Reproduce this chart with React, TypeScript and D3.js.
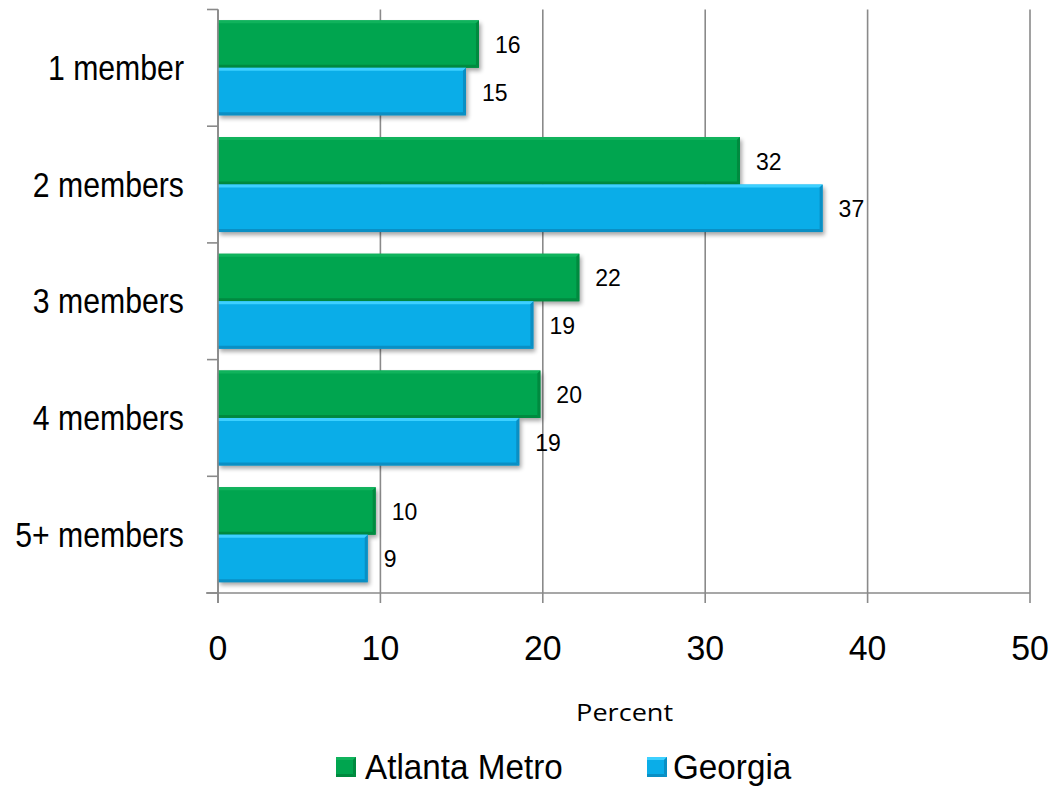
import React from "react";
import * as d3 from "d3";

const categories = ["1 member", "2 members", "3 members", "4 members", "5+ members"];
const seriesNames = ["Atlanta Metro", "Georgia"];
const atlantaValues = [16.07, 32.14, 22.25, 19.85, 9.71];
const georgiaValues = [15.27, 37.23, 19.42, 18.55, 9.22];
const atlantaLabels = ["16", "32", "22", "20", "10"];
const georgiaLabels = ["15", "37", "19", "19", "9"];
const xTicks = [0, 10, 20, 30, 40, 50];

const W = 1055;
const H = 788;
const plotLeft = 218;
const plotRight = 1030;
const plotTop = 9.5;
const plotBottom = 593;

const FONT = "'Liberation Sans', Arial, sans-serif";

const colors = {
  green: { fill: "#00A54F", dark: "#008A3F", light: "#10B35C" },
  blue: { fill: "#0AADE8", dark: "#0A8FC4", light: "#3DD0FF" },
};

export default function App() {
  const x = d3.scaleLinear().domain([0, 50]).range([plotLeft, plotRight]);
  const y = d3.scaleBand<string>().domain(categories).range([plotTop, plotBottom]).padding(0);
  const inner = d3
    .scaleBand<string>()
    .domain(seriesNames)
    .range([0, y.bandwidth()])
    .paddingInner(0)
    .paddingOuter(0.228);

  const series = [
    { name: seriesNames[0], values: atlantaValues, labels: atlantaLabels, c: colors.green },
    { name: seriesNames[1], values: georgiaValues, labels: georgiaLabels, c: colors.blue },
  ];

  const boundaries = categories.map((c) => y(c) as number).concat([plotBottom]);
  const bh = inner.bandwidth();

  return (
    <svg
      width={W}
      height={H}
      style={{ position: "absolute", left: 0, top: 0, background: "#fff" }}
      xmlns="http://www.w3.org/2000/svg"
    >
      <defs>
        <filter id="shadow" x="-5%" y="-20%" width="115%" height="160%">
          <feGaussianBlur stdDeviation="2" />
        </filter>
      </defs>
      <rect x={0} y={0} width={W} height={H} fill="#fff" />

      {/* gridlines */}
      {xTicks.map((t) => (
        <line
          key={"g" + t}
          x1={x(t)}
          x2={x(t)}
          y1={plotTop}
          y2={plotBottom + (t === 0 ? 10 : 10)}
          stroke="#8A8A8A"
          strokeWidth={1.6}
        />
      ))}

      {/* y axis ticks */}
      {boundaries.map((b, i) => (
        <line key={"yt" + i} x1={plotLeft - 11} x2={plotLeft} y1={b} y2={b} stroke="#8A8A8A" strokeWidth={1.6} />
      ))}
      {/* x axis line */}
      <line x1={plotLeft - 12} x2={plotRight} y1={plotBottom} y2={plotBottom} stroke="#8A8A8A" strokeWidth={1.6} />

      {/* bars */}
      {series.map((s) =>
        categories.map((cat, i) => {
          const y0 = (y(cat) as number) + (inner(s.name) as number);
          const x0 = x(0);
          const x1 = x(s.values[i]);
          const w = x1 - x0;
          const bev = 3;
          return (
            <g key={s.name + cat}>
              <rect x={x0 + 2} y={y0 + 3} width={w} height={bh} fill="#000" opacity={0.35} filter="url(#shadow)" />
              <rect x={x0} y={y0} width={w} height={bh} fill={s.c.fill} />
              <polygon
                points={`${x0},${y0} ${x1},${y0} ${x1 - bev},${y0 + bev} ${x0},${y0 + bev}`}
                fill={s.c.light}
              />
              <polygon
                points={`${x0},${y0 + bh} ${x1},${y0 + bh} ${x1 - bev},${y0 + bh - bev} ${x0},${y0 + bh - bev}`}
                fill={s.c.dark}
              />
              <polygon
                points={`${x1},${y0} ${x1},${y0 + bh} ${x1 - bev},${y0 + bh - bev} ${x1 - bev},${y0 + bev}`}
                fill={s.c.dark}
              />
              <text
                x={x1 + 16}
                y={y0 + bh / 2 + 9}
                fontFamily={FONT}
                fontSize={23}
                fill="#000"
              >
                {s.labels[i]}
              </text>
            </g>
          );
        })
      )}

      {/* y axis line on top */}
      <line x1={plotLeft} x2={plotLeft} y1={plotTop} y2={plotBottom + 10} stroke="#8A8A8A" strokeWidth={1.6} />

      {/* category labels */}
      {categories.map((cat) => (
        <g key={"cl" + cat} transform={`translate(184,${(y(cat) as number) + y.bandwidth() / 2 + 12}) scale(0.84,1)`}>
          <text x={0} y={0} textAnchor="end" fontFamily={FONT} fontSize={36} fill="#000">
            {cat}
          </text>
        </g>
      ))}

      {/* x tick labels */}
      {xTicks.map((t) => (
        <g key={"xl" + t} transform={`translate(${x(t)},660) scale(0.94,1)`}>
          <text x={0} y={0} textAnchor="middle" fontFamily={FONT} fontSize={36} fill="#000">
            {t}
          </text>
        </g>
      ))}

      {/* axis title */}
      <text
        x={624.6}
        y={720.5}
        textAnchor="middle"
        fontFamily="'Open Sans', 'Noto Sans', sans-serif"
        fontSize={24}
        textLength={97}
        lengthAdjust="spacingAndGlyphs"
        fill="#000"
      >
        Percent
      </text>

      {/* legend */}
      {[
        { name: seriesNames[0], c: colors.green, sx: 336, tx: 365 },
        { name: seriesNames[1], c: colors.blue, sx: 647, tx: 673 },
      ].map((l) => (
        <g key={"lg" + l.name}>
          <rect x={l.sx} y={757} width={20} height={20} fill={l.c.fill} />
          <polygon points={`${l.sx},757 ${l.sx + 20},757 ${l.sx + 17},760 ${l.sx},760`} fill={l.c.light} />
          <polygon points={`${l.sx + 20},757 ${l.sx + 20},777 ${l.sx + 17},774 ${l.sx + 17},760`} fill={l.c.dark} />
          <polygon points={`${l.sx},777 ${l.sx + 20},777 ${l.sx + 17},774 ${l.sx},774`} fill={l.c.dark} />
          <g transform={`translate(${l.tx},779) scale(0.95,1)`}>
            <text x={0} y={0} fontFamily={FONT} fontSize={35} fill="#000">
              {l.name}
            </text>
          </g>
        </g>
      ))}
    </svg>
  );
}
